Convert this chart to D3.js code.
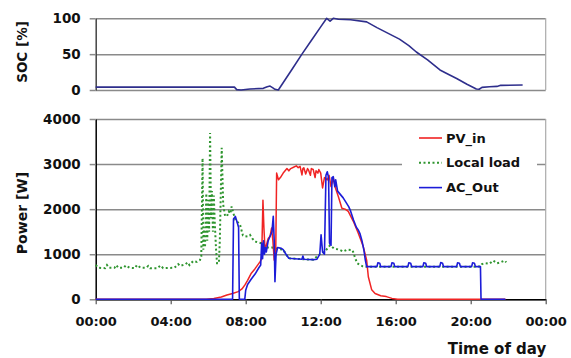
<!DOCTYPE html>
<html><head><meta charset="utf-8">
<script src="https://cdn.jsdelivr.net/npm/d3@7"></script>
<style>
body{margin:0;background:#fff}
text{font-family:"DejaVu Sans","Liberation Sans",sans-serif;font-weight:bold;fill:#111}
</style>
</head><body>
<svg id="chart" width="571" height="358"></svg>
<script>
// ---------- data (time in hours of day) ----------
const hourTicks = [0, 4, 8, 12, 16, 20, 24];
const socTicks = [0, 50, 100];
const powerTicks = [0, 1000, 2000, 3000, 4000];
const seriesNames = ["PV_in", "Local load", "AC_Out"];

const socData = [
  [0,4],[7.4,4],[7.52,0.5],[7.75,0],[8.23,1.4],[8.94,2.3],[9.15,4.5],[9.3,5.5],[9.45,3],[9.56,1],[9.74,0],
  [10.5,30],[11.0,50],[11.5,69],[12.0,88],[12.32,100],[12.5,96],[12.67,100],[12.94,98.6],[13.6,98],[14.45,95],
  [15.0,87],[15.6,79],[16.2,71],[16.7,62],[17.1,53],[17.7,42],[18.36,28],[18.8,22],[19.25,16],[19.8,8],[20.3,1.4],
  [20.45,1],[20.6,3.7],[21.0,4.5],[21.4,5],[21.6,6.5],[22.77,7]
];

const pvIn = [
  [0,0],[5.9,0],[6.3,20],[6.7,50],[7.0,95],[7.3,130],[7.6,170],[7.8,230],[7.96,320],[8.1,420],[8.3,580],
  [8.5,680],[8.76,830],[8.85,900],[8.92,2200],[8.97,1600],[9.03,1100],[9.1,1200],[9.2,1350],[9.3,1400],
  [9.38,1580],[9.45,1300],[9.52,870],[9.6,1000],[9.65,2800],[9.75,2650],[9.85,2700],[10.0,2800],[10.2,2900],
  [10.3,2850],[10.4,2900],[10.55,2930],[10.7,2960],[10.8,2920],[10.9,2950],[11.0,2760],[11.05,2900],[11.1,2920],
  [11.2,2780],[11.3,2900],[11.35,2870],[11.45,2750],[11.5,2900],[11.6,2880],[11.7,2700],[11.75,2850],[11.85,2800],
  [11.9,2880],[12.0,2800],[12.1,2470],[12.2,2700],[12.35,2650],[12.45,2750],[12.55,2500],[12.67,2690],[12.8,2450],
  [12.94,2280],[13.13,2020],[13.3,2000],[13.47,1950],[13.74,1730],[14.0,1470],[14.27,1170],[14.45,870],[14.54,500],
  [14.72,210],[14.9,130],[15.2,80],[15.5,60],[15.8,20],[16.1,0],[21.85,0]
];

const localLoad = [
  [0,760],[0.15,700],[0.5,690],[0.6,760],[0.7,700],[1.0,700],[1.1,760],[1.2,700],[1.5,700],[1.6,750],[1.8,700],
  [2.1,690],[2.2,760],[2.4,700],[2.7,700],[2.8,740],[2.9,690],[3.3,690],[3.45,750],[3.6,690],[4.2,700],[4.4,780],
  [4.5,740],[4.8,780],[4.9,820],[5.0,760],[5.2,850],[5.4,830],[5.56,870],[5.63,950],[5.7,3130],[5.74,1100],
  [5.78,1600],[5.83,1150],[5.9,2350],[5.95,1300],[6.0,2200],[6.05,1500],[6.1,3690],[6.15,1800],[6.2,2400],
  [6.25,1500],[6.3,2300],[6.35,1700],[6.42,1100],[6.47,800],[6.57,800],[6.62,1300],[6.72,3360],[6.8,2100],
  [6.9,1850],[7.0,1840],[7.1,1950],[7.18,1900],[7.25,2060],[7.35,1900],[7.45,1760],[7.6,1700],[7.7,1650],
  [7.85,1420],[7.96,1390],[8.1,1400],[8.23,1430],[8.35,1350],[8.5,1280],[8.7,1260],[8.85,1244],[9.1,1150],
  [9.4,1150],[9.7,1120],[10.0,1100],[10.15,1000],[10.3,910],[11.0,890],[11.6,880],[11.95,1000],[12.2,1050],
  [12.5,1200],[12.7,1130],[13.0,1100],[13.2,1060],[13.4,1100],[13.7,1090],[13.85,900],[13.95,800],[14.1,760],
  [14.25,730],[14.4,720],[20.5,725],[20.6,780],[20.8,800],[21.0,790],[21.2,860],[21.4,800],[21.6,820],[21.8,860],[21.9,820]
];

const acOut = [
  [0,0],[7.3,0],[7.35,1780],[7.45,1840],[7.55,1700],[7.62,1600],[7.66,0],[7.95,0],[8.0,200],[8.1,330],[8.3,450],
  [8.5,560],[8.7,700],[8.8,760],[8.85,1250],[8.9,900],[8.95,1300],[9.0,1000],[9.05,1150],[9.1,1050],[9.2,1300],
  [9.3,1400],[9.4,1500],[9.47,1840],[9.52,1300],[9.56,390],[9.62,1000],[9.7,1150],[9.9,1130],[10.0,1100],
  [10.15,1000],[10.3,910],[10.6,900],[11.0,890],[11.05,960],[11.1,890],[11.6,880],[11.8,890],[11.95,1000],
  [12.02,1430],[12.1,1050],[12.2,1000],[12.28,2750],[12.35,2830],[12.42,2700],[12.47,1250],[12.55,1200],
  [12.6,2700],[12.67,2720],[12.75,2500],[12.8,2650],[12.9,2400],[13.0,2350],[13.2,2250],[13.35,2150],[13.5,2050],
  [13.6,1950],[13.75,1760],[13.9,1600],[14.0,1540],[14.1,1450],[14.2,1300],[14.3,1100],[14.38,870],[14.45,725],
  [15.0,725],[15.05,810],[15.15,800],[15.2,725],[15.75,725],[15.8,810],[15.9,800],[15.95,725],[16.65,725],
  [16.7,810],[16.8,800],[16.85,725],[17.45,725],[17.5,810],[17.6,800],[17.65,725],[18.35,725],[18.4,815],
  [18.5,800],[18.55,725],[19.25,725],[19.3,810],[19.4,800],[19.45,725],[20.05,725],[20.1,810],[20.2,800],
  [20.25,725],[20.52,725],[20.55,0],[21.85,0]
];

// ---------- layout ----------
const svg = d3.select("#chart");
const X0 = 95.7, X1 = 545.7;
const x = d3.scaleLinear().domain([0, 24]).range([X0, X1]);
const ySoc = d3.scaleLinear().domain([0, 100]).range([90, 18.3]);
const yPow = d3.scaleLinear().domain([0, 4000]).range([299.3, 119]);
const gridColor = "#8a8a8a";

function panel(y, ticks, axisColor) {
  const g = svg.append("g");
  // gridlines
  g.append("g").attr("transform", `translate(${X0},0)`)
    .call(d3.axisRight(y).tickValues(ticks).tickSize(X1 - X0).tickFormat(""))
    .call(s => s.select(".domain").remove())
    .call(s => s.selectAll("line").attr("stroke", gridColor).attr("stroke-width", 1.5));
  // right border
  g.append("line").attr("x1", X1).attr("x2", X1).attr("y1", y.range()[1]).attr("y2", y.range()[0])
    .attr("stroke", "#aaa").attr("stroke-width", 1.2);
  // left axis
  g.append("g").attr("transform", `translate(${X0},0)`)
    .call(d3.axisLeft(y).tickValues(ticks).tickSize(6).tickSizeOuter(0).tickPadding(9).tickFormat(d3.format("d")))
    .call(s => s.select(".domain").attr("stroke", axisColor).attr("stroke-width", 1.5))
    .call(s => s.selectAll("line").attr("stroke", gridColor).attr("stroke-width", 1.5))
    .call(s => s.selectAll("text").attr("font-size", 13.5).attr("font-family", null).attr("fill", "#111"));
  return g;
}

panel(ySoc, socTicks, "#444");
panel(yPow, powerTicks, "#000");

// bottom axis of lower panel
svg.append("g").attr("transform", `translate(0,${yPow(0)})`)
  .call(d3.axisBottom(x).tickValues(hourTicks).tickSize(5).tickSizeOuter(0).tickPadding(12)
    .tickFormat(h => String(h % 24).padStart(2, "0") + ":00"))
  .call(s => s.select(".domain").attr("stroke", "#000").attr("stroke-width", 1.5))
  .call(s => s.selectAll("line").attr("stroke", "#555").attr("stroke-width", 1.2))
  .call(s => s.selectAll("text").attr("font-size", 13).attr("font-family", null).attr("fill", "#111"));

// legend background
svg.append("rect").attr("x", 402).attr("y", 126).attr("width", 135).attr("height", 72).attr("fill", "#fff");

// lines
const lineP = d3.line().x(d => x(d[0])).y(d => yPow(d[1]));
const lineS = d3.line().x(d => x(d[0])).y(d => ySoc(d[1]));

svg.append("path").datum(localLoad).attr("d", lineP).attr("fill", "none")
  .attr("stroke", "#2f952f").attr("stroke-width", 2).attr("stroke-dasharray", "2,2.5");
svg.append("path").datum(pvIn).attr("d", lineP).attr("fill", "none")
  .attr("stroke", "#f02424").attr("stroke-width", 1.5).attr("stroke-linejoin", "round");
svg.append("path").datum(acOut).attr("d", lineP).attr("fill", "none")
  .attr("stroke", "#1c1cd8").attr("stroke-width", 1.6).attr("stroke-linejoin", "round");
svg.append("path").datum(socData).attr("d", lineS).attr("fill", "none")
  .attr("stroke", "#2e2e8c").attr("stroke-width", 1.6).attr("stroke-linejoin", "round");

// legend
const legColors = ["#f02424", "#2f952f", "#1c1cd8"];
const legDash = [null, "2,2.5", null];
seriesNames.forEach((n, i) => {
  const yy = 138 + i * 24.8;
  svg.append("line").attr("x1", 419).attr("x2", 442).attr("y1", yy).attr("y2", yy)
    .attr("stroke", legColors[i]).attr("stroke-width", i === 1 ? 2 : 1.6).attr("stroke-dasharray", legDash[i]);
  svg.append("text").attr("x", 446).attr("y", yy).attr("dy", "0.36em").attr("font-size", 13).text(n);
});

// axis titles
svg.append("text").attr("transform", "translate(27,52) rotate(-90)").attr("text-anchor", "middle")
  .attr("font-size", 13.5).text("SOC [%]");
svg.append("text").attr("transform", "translate(27,213) rotate(-90)").attr("text-anchor", "middle")
  .attr("font-size", 14).text("Power [W]");
svg.append("text").attr("x", 497).attr("y", 354).attr("text-anchor", "middle")
  .attr("font-size", 15).text("Time of day");
</script>
</body></html>
